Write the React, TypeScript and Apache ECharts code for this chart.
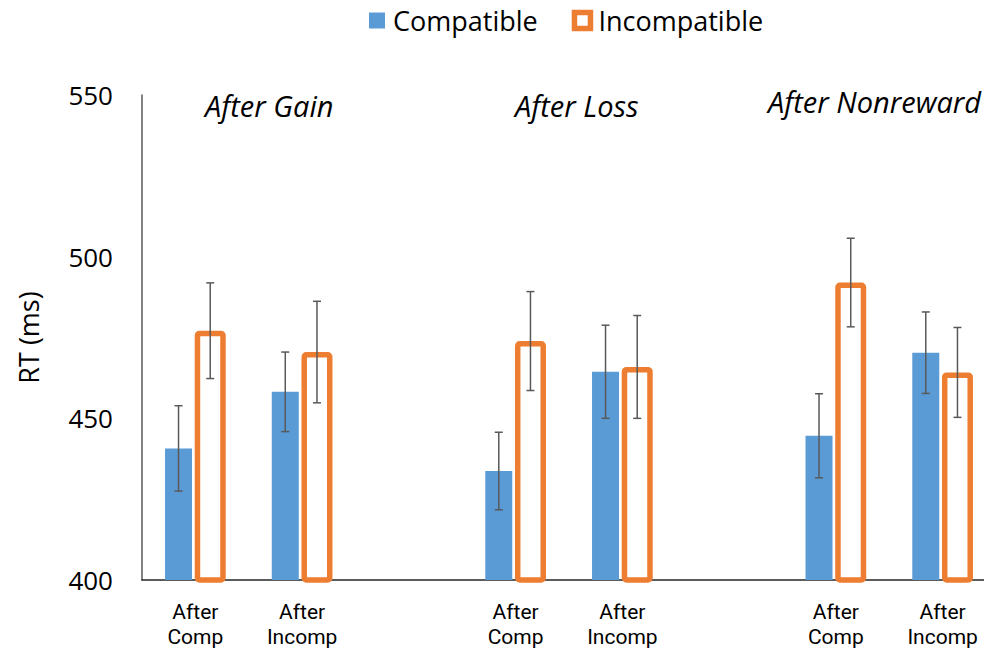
import React, { useEffect, useRef } from "react";
import * as echarts from "echarts";

const groups = ["After Gain", "After Loss", "After Nonreward"];
const conditions = ["After\nComp", "After\nIncomp"];
const compatible = [440.7, 458.2, 433.7, 464.4, 444.6, 470.3];
const compatibleErr = [13.2, 12.3, 12.0, 14.4, 13.0, 12.6];
const incompatible = [477.1, 470.5, 473.9, 465.9, 492.0, 464.2];
const incompatibleErr = [14.8, 15.7, 15.3, 15.9, 13.7, 13.9];
const yTicks = [400, 450, 500, 550];
const seriesNames = ["Compatible", "Incompatible"];

const BLUE = "#5B9BD5";
const ORANGE = "#ED7D31";
const BLUE_W = 27;
const ORANGE_W = 31;
const GAP_PCT = 0.1;

// Build 8-slot category layout (two conditions per group, empty slot between groups)
const categories: string[] = [];
const slotIndex: number[] = [];
groups.forEach((g, gi) => {
  conditions.forEach((c) => {
    slotIndex.push(categories.length);
    categories.push(c);
  });
  if (gi < groups.length - 1) categories.push("");
});
const toSlots = (vals: number[]) => {
  const out: (number | string)[] = categories.map(() => "-");
  vals.forEach((v, i) => (out[slotIndex[i]] = v));
  return out;
};

export default function App() {
  const ref = useRef<HTMLDivElement>(null);
  useEffect(() => {
    if (!ref.current) return;
    const chart = echarts.init(ref.current, undefined, { renderer: "svg" });
    const total = BLUE_W + BLUE_W * GAP_PCT + ORANGE_W;
    const offsets = [-total / 2 + BLUE_W / 2, -total / 2 + BLUE_W * (1 + GAP_PCT) + ORANGE_W / 2];
    const errData: number[][] = [];
    compatible.forEach((v, i) => errData.push([slotIndex[i], v, compatibleErr[i], 0]));
    incompatible.forEach((v, i) => errData.push([slotIndex[i], v, incompatibleErr[i], 1]));
    const font = "'Open Sans', 'Noto Sans', sans-serif";
    const titleFont = `italic 29px ${font}`;
    chart.setOption({
      animation: false,
      textStyle: { fontFamily: font },
      legend: {
        left: 364,
        top: 2,
        itemWidth: 16,
        itemHeight: 16,
        itemGap: 34,
        icon: "rect",
        textStyle: { fontSize: 27, color: "#000", fontFamily: font, padding: [0, 0, 0, 3] },
        data: [
          { name: seriesNames[0] },
          { name: seriesNames[1], itemStyle: { color: "#fff", borderColor: ORANGE, borderWidth: 5.5 } },
        ],
      },
      grid: { left: 142, right: 0, top: 95, bottom: 78 },
      xAxis: {
        type: "category",
        data: categories,
        axisLine: { lineStyle: { color: "#262626", width: 1.5 } },
        axisTick: { show: false },
        axisLabel: {
          interval: 0,
          fontSize: 21,
          lineHeight: 25,
          margin: 19,
          color: "#000",
          fontFamily: "Roboto, sans-serif",
        },
      },
      yAxis: {
        type: "value",
        min: yTicks[0],
        max: yTicks[yTicks.length - 1],
        interval: 50,
        name: "RT (ms)",
        nameLocation: "middle",
        nameGap: 100,
        nameTextStyle: { fontSize: 27, color: "#000", fontFamily: font },
        axisLine: { show: true, lineStyle: { color: "#595959", width: 1.5 } },
        axisTick: { show: false },
        splitLine: { show: false },
        axisLabel: { fontSize: 26, color: "#000", margin: 29, fontFamily: font },
      },
      graphic: [
        { type: "text", left: 205, top: 91, style: { text: groups[0], font: titleFont, fill: "#000" } },
        { type: "text", left: 515, top: 91, style: { text: groups[1], font: titleFont, fill: "#000" } },
        { type: "text", left: 768, top: 87, style: { text: groups[2], font: titleFont, fill: "#000" } },
      ],
      series: [
        {
          name: seriesNames[0],
          type: "bar",
          data: toSlots(compatible),
          barWidth: BLUE_W,
          barGap: `${GAP_PCT * 100}%`,
          itemStyle: { color: BLUE },
        },
        {
          name: seriesNames[1],
          type: "bar",
          data: toSlots(incompatible),
          barWidth: ORANGE_W,
          barGap: `${GAP_PCT * 100}%`,
          itemStyle: { color: "#fff", borderColor: ORANGE, borderWidth: 5.5, borderRadius: 2 },
        },
        {
          type: "custom",
          z: 10,
          silent: true,
          data: errData,
          renderItem: (params: any, api: any) => {
            const x = api.value(0);
            const v = api.value(1);
            const e = api.value(2);
            const s = api.value(3);
            const top = api.coord([x, v + e]);
            const bot = api.coord([x, v - e]);
            const cx = top[0] + offsets[s];
            const cap = 4;
            const style = { stroke: "#595959", lineWidth: 1.5 };
            return {
              type: "group",
              children: [
                { type: "line", shape: { x1: cx, y1: top[1], x2: cx, y2: bot[1] }, style },
                { type: "line", shape: { x1: cx - cap, y1: top[1], x2: cx + cap, y2: top[1] }, style },
                { type: "line", shape: { x1: cx - cap, y1: bot[1], x2: cx + cap, y2: bot[1] }, style },
              ],
            };
          },
        },
      ],
    });
    return () => chart.dispose();
  }, []);
  return (
    <div style={{ position: "fixed", left: 0, top: 0, width: 984, height: 658, overflow: "hidden", background: "#fff" }}>
      <div ref={ref} style={{ width: 996, height: 658 }} />
    </div>
  );
}
